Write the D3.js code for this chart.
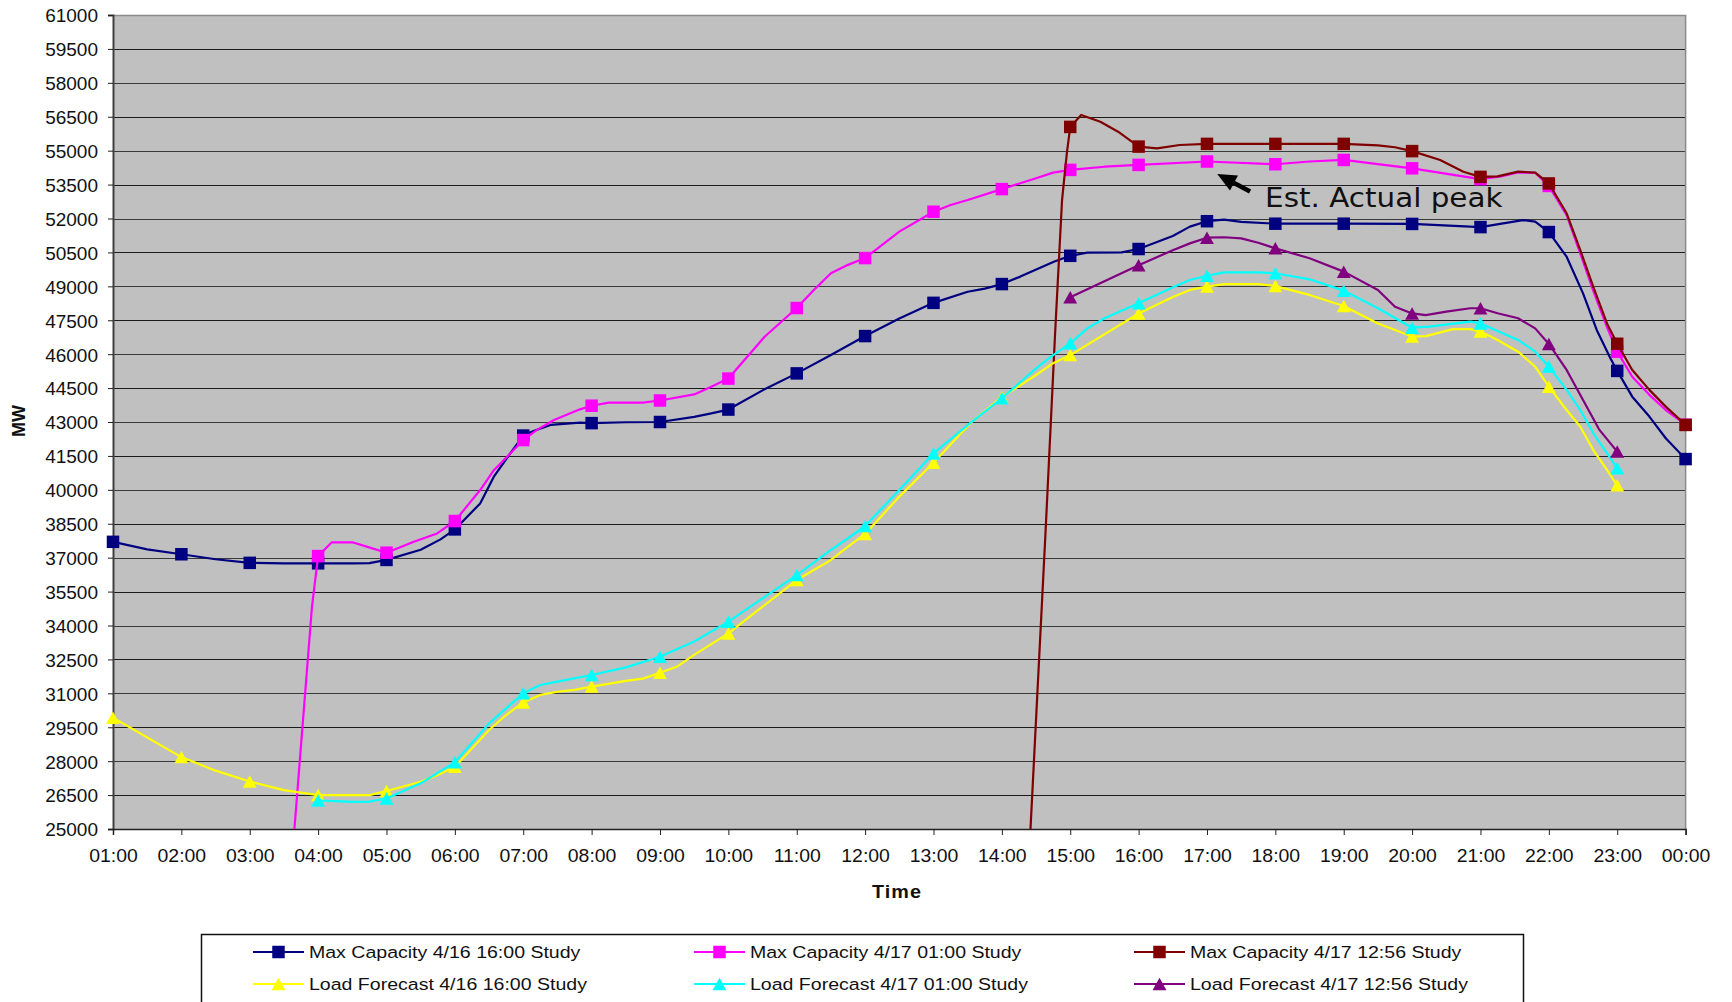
<!DOCTYPE html>
<html><head><meta charset="utf-8">
<script src="https://cdn.jsdelivr.net/npm/d3@7"></script>
<style>body{margin:0;background:#fff}svg{display:block}</style>
</head><body>
<svg id="chart" width="1732" height="1002"></svg>
<script>
// ---------- data ----------
const timeHours = [1,2,3,4,5,6,7,8,9,10,11,12,13,14,15,16,17,18,19,20,21,22,23,24];
const timeLabels = ["01:00","02:00","03:00","04:00","05:00","06:00","07:00","08:00","09:00","10:00","11:00","12:00",
  "13:00","14:00","15:00","16:00","17:00","18:00","19:00","20:00","21:00","22:00","23:00","00:00"];
const mwTicks = [25000,26500,28000,29500,31000,32500,34000,35500,37000,38500,40000,41500,43000,44500,46000,47500,
  49000,50500,52000,53500,55000,56500,58000,59500,61000];

const seriesNames = ["Max Capacity 4/16 16:00 Study","Max Capacity 4/17 01:00 Study","Max Capacity 4/17 12:56 Study",
  "Load Forecast 4/16 16:00 Study","Load Forecast 4/17 01:00 Study","Load Forecast 4/17 12:56 Study"];
const seriesColors = ["#000080","#FF00FF","#800000","#FFFF00","#00FFFF","#800080"];
const seriesMarkers = ["square","square","square","triangle","triangle","triangle"];

// [hour, MW]  (hour 24 = 00:00)
const maxCap0416 = [[1,37700],[1.5,37370],[2,37150],[2.5,36930],[3,36770],[3.5,36750],[4,36750],[4.5,36750],[4.75,36760],
  [5,36900],[5.5,37350],[5.79,37810],[6,38250],[6.37,39400],[6.57,40580],[6.81,41610],[7,42400],[7.15,42600],[7.4,42870],
  [7.83,42970],[8,42950],[8.5,42990],[9,43000],[9.5,43230],[9.75,43380],[10,43550],[10.5,44400],[11,45150],[11.5,45960],
  [12,46800],[12.5,47580],[13,48270],[13.5,48760],[13.75,48900],[14,49100],[14.27,49430],[14.76,50090],[15,50350],
  [15.25,50490],[15.75,50500],[16,50650],[16.5,51230],[16.75,51640],[17,51880],[17.25,51950],[17.5,51850],[18,51770],
  [19,51770],[20,51760],[21,51620],[21.62,51930],[21.8,51860],[22,51400],[22.26,50310],[22.5,48690],[22.7,47070],
  [22.9,45820],[23,45260],[23.22,44120],[23.47,43240],[23.71,42280],[24,41360]];
const maxCap0417a = [[3,0],[3.91,34830],[4,37070],[4.2,37680],[4.5,37680],[4.71,37490],[5,37220],[5.4,37700],[5.74,38070],
  [6,38620],[6.37,39990],[6.57,40870],[6.81,41610],[7,42200],[7.2,42650],[7.45,43090],[7.83,43560],[8,43720],[8.25,43860],
  [8.75,43860],[9,43950],[9.5,44220],[9.75,44560],[10,44920],[10.53,46770],[11,48040],[11.25,48840],[11.5,49580],
  [11.75,49950],[12,50250],[12.5,51420],[13,52300],[13.25,52600],[13.5,52820],[14,53300],[14.27,53560],[14.5,53780],
  [14.75,54030],[15,54150],[15.5,54290],[16,54370],[17,54520],[18,54400],[18.5,54520],[19,54590],[20,54220],[21,53740],
  [21.3,53860],[21.55,54040],[21.8,54020],[22,53440],[22.26,52150],[22.46,50450],[22.65,48800],[22.85,47200],[23,46110],
  [23.22,45000],[23.47,44200],[23.71,43530],[24,42880]];
const maxCap0417b = [[14,0],[14.64,38200],[14.78,47000],[14.88,52800],[14.95,54880],[15,56050],[15.16,56580],[15.44,56280],
  [15.7,55840],[15.9,55400],[16,55180],[16.27,55100],[16.6,55250],[17,55300],[18,55300],[19,55300],[19.5,55230],
  [19.75,55150],[20,54980],[20.41,54590],[20.75,54070],[21,53840],[21.25,53860],[21.55,54070],[21.8,54030],[22,53550],
  [22.26,52230],[22.46,50600],[22.65,48980],[22.85,47360],[23,46460],[23.22,45300],[23.47,44420],[23.71,43680],[24,42870]];
const loadFc0416 = [[1,29920],[2,28180],[2.5,27580],[3,27100],[3.5,26720],[4,26500],[4.5,26500],[4.75,26500],[5,26680],
  [5.5,27090],[5.75,27390],[6,27750],[6.5,29380],[6.75,30040],[7,30600],[7.25,30930],[7.5,31070],[7.75,31150],[8,31300],
  [8.5,31550],[8.75,31650],[9,31910],[9.25,32180],[9.5,32700],[10,33650],[10.5,34830],[11,36010],[11.5,36900],
  [11.75,37490],[12,38050],[12.5,39700],[13,41200],[13.56,43010],[14,44100],[14.5,45080],[14.75,45600],[15,45960],
  [16,47800],[16.5,48530],[16.75,48840],[17,48990],[17.25,49100],[17.75,49100],[18,49010],[18.5,48620],[19,48130],
  [19.5,47360],[20,46780],[20.2,46800],[20.6,47110],[20.85,47110],[21,47000],[21.25,46630],[21.55,46110],[21.8,45450],
  [22,44560],[22.26,43530],[22.46,42790],[22.65,41760],[22.85,40880],[23,40200]];
const loadFc0417a = [[4,26260],[4.25,26230],[4.5,26200],[4.75,26210],[5,26350],[5.5,27020],[6,27950],[6.5,29670],[7,31000],
  [7.25,31370],[7.5,31520],[8,31810],[8.5,32150],[9,32620],[9.5,33290],[10,34170],[10.5,35200],[11,36230],[11.5,37340],
  [11.75,37860],[12,38400],[12.5,39990],[13,41610],[13.56,43010],[14,44050],[14.5,45370],[14.75,45960],[15,46480],
  [15.25,47140],[15.5,47590],[16,48250],[16.5,48960],[16.75,49280],[17,49470],[17.25,49620],[17.75,49620],[18,49580],
  [18.5,49310],[19,48810],[19.5,48030],[20,47170],[20.25,47220],[20.85,47440],[21,47360],[21.55,46630],[21.8,46110],
  [22,45450],[22.26,44420],[22.46,43530],[22.65,42500],[22.85,41620],[23,40950]];
const loadFc0417b = [[15,48520],[16,49930],[16.5,50600],[16.75,50900],[17,51150],[17.25,51170],[17.5,51120],[17.75,50930],
  [18,50680],[18.5,50240],[19,49650],[19.5,48840],[19.75,48100],[20,47800],[20.2,47730],[20.5,47880],[20.85,48030],
  [21,48030],[21.25,47810],[21.55,47590],[21.8,47140],[22,46450],[22.26,45300],[22.5,43970],[22.74,42650],[23,41690]];

const seriesData = [maxCap0416, maxCap0417a, maxCap0417b, loadFc0416, loadFc0417a, loadFc0417b];

const annotationText = "Est. Actual peak";
const annotationTextAt = [17.85, 52510];
const annotationArrowFrom = [17.63, 53190];
const annotationArrowTo = [17.15, 53970];

// ---------- chart ----------
const svg = d3.select("#chart");
const FONT = "'Liberation Sans', Arial, Helvetica, sans-serif";
const plot = {left:113, right:1685.6, top:15, bottom:829};

const x = d3.scaleLinear().domain([1,24]).range([plot.left, plot.right]);
const y = d3.scaleLinear().domain([25000,61000]).range([plot.bottom, plot.top]);

svg.append("rect").attr("width",1732).attr("height",1002).attr("fill","#fff");

// plot background
svg.append("rect").attr("x",plot.left).attr("y",plot.top)
  .attr("width",plot.right-plot.left).attr("height",plot.bottom-plot.top).attr("fill","#C0C0C0");

// gridlines
svg.append("g").selectAll("line").data(mwTicks).join("line")
  .attr("x1",plot.left).attr("x2",plot.right)
  .attr("y1",d=>Math.round(y(d))+0.5).attr("y2",d=>Math.round(y(d))+0.5)
  .attr("stroke",(d,i)=> i%2 ? "#1c1c1c" : "#3a3a3a").attr("stroke-width",1.2);

// borders (top / right)
svg.append("path")
  .attr("d",`M${plot.left},${plot.top+0.5}H${plot.right}V${plot.bottom}`)
  .attr("fill","none").attr("stroke","#8a8a8a").attr("stroke-width",1.5);

// y axis
const yAxis = svg.append("g").attr("transform",`translate(${plot.left},0)`)
  .call(d3.axisLeft(y).tickValues(mwTicks).tickSize(5).tickPadding(10).tickFormat(d=>String(d)));
yAxis.select(".domain").attr("stroke","#404040").attr("stroke-width",2);
yAxis.selectAll(".tick line").attr("stroke","#202020");
yAxis.selectAll(".tick text").attr("font-family",FONT).attr("font-size",19).attr("fill","#111")
  .attr("dy","0.36em");

// x axis
const xAxis = svg.append("g").attr("transform",`translate(0,${plot.bottom})`)
  .call(d3.axisBottom(x).tickValues(timeHours).tickSize(6).tickPadding(0).tickFormat((d,i)=>timeLabels[i]));
xAxis.select(".domain").attr("stroke","#202020").attr("stroke-width",1.5);
xAxis.selectAll(".tick line").attr("stroke","#202020");
xAxis.selectAll(".tick text").attr("font-family",FONT).attr("font-size",18).attr("fill","#111")
  .attr("y",0).attr("dy",0).attr("transform","translate(0,33) scale(1.08,1)");

// axis titles
svg.append("text").attr("transform","translate(897,898) scale(1.1,1)")
  .attr("text-anchor","middle").attr("font-family",FONT).attr("font-weight","bold")
  .attr("font-size",18).attr("letter-spacing","1px").attr("fill","#111").text("Time");
svg.append("text").attr("transform","translate(25,421) rotate(-90)")
  .attr("text-anchor","middle").attr("font-family",FONT).attr("font-weight","bold")
  .attr("font-size",18).attr("fill","#111").text("MW");

// clip
svg.append("clipPath").attr("id","plotclip").append("rect")
  .attr("x",plot.left).attr("y",plot.top).attr("width",plot.right-plot.left).attr("height",plot.bottom-plot.top);

const line = d3.line().x(d=>x(d[0])).y(d=>y(d[1])).curve(d3.curveLinear);

function markerPath(type, size){
  if(type==="square"){ const h=size/2; return `M${-h},${-h}H${h}V${h}H${-h}Z`; }
  const w=size/2+0.7, h=size/2; return `M0,${-h}L${w},${h}L${-w},${h}Z`;
}
const markerSize = t => t==="square" ? 12.5 : 12.5;

const seriesG = svg.append("g");
seriesData.forEach((data,i)=>{
  const g = seriesG.append("g");
  g.append("path").datum(data).attr("clip-path","url(#plotclip)")
    .attr("d",line).attr("fill","none").attr("stroke",seriesColors[i]).attr("stroke-width",2.2)
    .attr("stroke-linejoin","round");
  const markers = data.filter(d=>Number.isInteger(d[0]) && d[1]>=y.domain()[0] && d[1]<=y.domain()[1]);
  g.selectAll("path.m").data(markers).join("path").attr("class","m")
    .attr("transform",d=>`translate(${x(d[0])},${y(d[1])})`)
    .attr("d",markerPath(seriesMarkers[i], markerSize(seriesMarkers[i])))
    .attr("fill",seriesColors[i]);
});

// annotation
const ax0 = x(annotationArrowFrom[0]), ay0 = y(annotationArrowFrom[1]);
const ax1 = x(annotationArrowTo[0]), ay1 = y(annotationArrowTo[1]);
const len = Math.hypot(ax1-ax0, ay1-ay0), ux=(ax1-ax0)/len, uy=(ay1-ay0)/len;
const headL=19, headW=8.5;
const bx = ax1-ux*headL, by = ay1-uy*headL;
svg.append("line").attr("x1",ax0).attr("y1",ay0).attr("x2",bx+ux*2).attr("y2",by+uy*2)
  .attr("stroke","#000").attr("stroke-width",4.5);
svg.append("path")
  .attr("d",`M${ax1},${ay1}L${bx-uy*headW},${by+ux*headW}L${bx+uy*headW},${by-ux*headW}Z`)
  .attr("fill","#000");
svg.append("text").attr("transform",`translate(${x(annotationTextAt[0])},${y(annotationTextAt[1])}) scale(1.11,1)`)
  .attr("font-family","'DejaVu Sans', sans-serif").attr("font-size",26.5).attr("fill","#111")
  .text(annotationText);

// legend
svg.append("rect").attr("x",201.5).attr("y",934.5).attr("width",1322).attr("height",110)
  .attr("fill","#fff").attr("stroke","#111").attr("stroke-width",1.5);
const legCols = [253, 694, 1134], legRows = [952, 984];
seriesNames.forEach((name,i)=>{
  const cx = legCols[i%3], cy = legRows[Math.floor(i/3)];
  const g = svg.append("g");
  g.append("line").attr("x1",cx).attr("x2",cx+51).attr("y1",cy).attr("y2",cy)
    .attr("stroke",seriesColors[i]).attr("stroke-width",2.2);
  g.append("path").attr("transform",`translate(${cx+25.5},${cy})`)
    .attr("d",markerPath(seriesMarkers[i], markerSize(seriesMarkers[i]))).attr("fill",seriesColors[i]);
  g.append("text").attr("transform",`translate(${cx+56},${cy+6}) scale(1.15,1)`)
    .attr("font-family",FONT).attr("font-size",17).attr("fill","#111").text(name);
});
</script>
</body></html>
